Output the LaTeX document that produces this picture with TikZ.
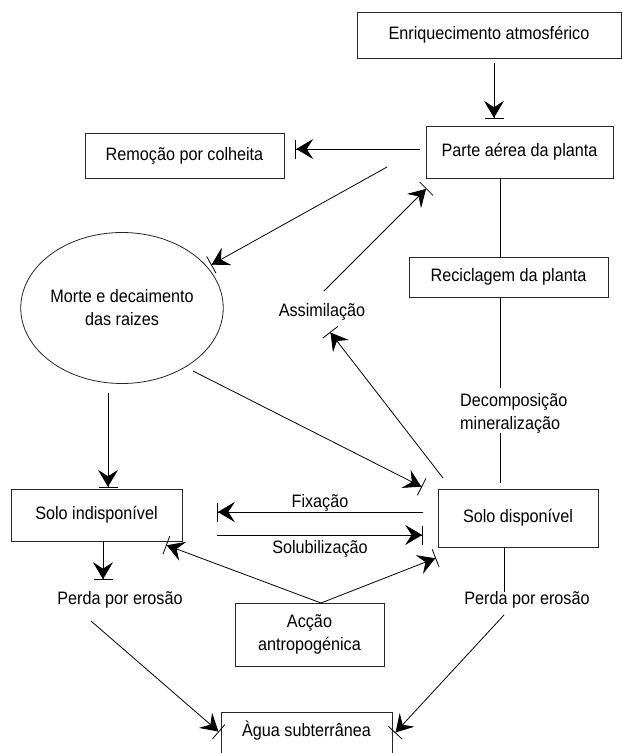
\documentclass[tikz,border=0pt]{standalone}
\usepackage{fontspec}
\setmainfont{Liberation Sans}[FakeStretch=0.9]
\usetikzlibrary{arrows.meta,shapes.geometric}
\begin{document}
\begin{tikzpicture}[x=1pt,y=-1pt,
  font=\fontsize{18}{23}\selectfont,
  box/.style={draw=black!85, line width=0.8pt, inner sep=0pt, align=center},
  lbl/.style={inner sep=0pt, align=center},
  conn/.style={line width=0.8pt, draw=black},
  arr/.style={conn, -{Stealth[length=17pt,width=20pt,inset=6.5pt]Bar[width=19pt]}}]
\fill[white] (0,0) rectangle (622,753);
\useasboundingbox (0,0) rectangle (622,753);

% nodes
\node[box, minimum width=264pt, minimum height=46pt] (enr) at (489,35) {Enriquecimento atmosférico};
\node[box, minimum width=187pt, minimum height=52pt] (parte) at (519.5,152) {Parte aérea da planta};
\node[box, minimum width=199pt, minimum height=45pt] (rem) at (184.5,155.5) {Remoção por colheita};
\node[box, minimum width=199pt, minimum height=40pt] (rec) at (508.5,277) {Reciclagem da planta};
\node[box, ellipse, minimum width=166pt, minimum height=151pt] (morte) at (122,308) {Morte e decaimento\\das raizes};
\node[box, minimum width=171pt, minimum height=52pt] (sind) at (96.5,515) {Solo indisponível};
\node[box, minimum width=160pt, minimum height=58pt] (sdisp) at (518,518) {Solo disponível};
\node[box, minimum width=149pt, minimum height=63pt] (accao) at (309.5,634.5) {Acção\\antropogénica};
\node[lbl] (agua) at (306.5,731) {Àgua subterrânea};
\draw[conn, draw=black!85] (221,753) -- (221,712) -- (392,712) -- (392,753);

% labels
\node[lbl] (assim) at (322,312) {Assimilação};
\node[lbl, align=left, anchor=west] (decomp) at (460,413) {Decomposição\\mineralização};
\node[lbl] (fix) at (320,503) {Fixação};
\node[lbl] (solub) at (320,549) {Solubilização};
\node[lbl] (perda1) at (120,600) {Perda por erosão};
\node[lbl] (perda2) at (527,600) {Perda por erosão};

% free ends
\coordinate (e1) at (494,63);
\coordinate (r1) at (420,149);
\coordinate (m1) at (387,167);
\coordinate (m2) at (211,265);
\coordinate (as1) at (324,291);
\coordinate (as2) at (443,478);
\coordinate (as3) at (330,332);
\coordinate (c1) at (108,393);
\coordinate (c2) at (193,371);
\coordinate (c3) at (422,487);
\coordinate (f1) at (423,512);
\coordinate (f2) at (217,512);
\coordinate (s1) at (217,535);
\coordinate (s2) at (423,535);
\coordinate (ac0) at (321,603);
\coordinate (ac1) at (166,545);
\coordinate (ac2) at (436,558);
\coordinate (pl1) at (103,541);
\coordinate (pl2) at (91,621);
\coordinate (aw) at (219,732);
\coordinate (ae) at (395,733);
\coordinate (pr0) at (504,592);
\coordinate (pr1) at (504,615);
\coordinate (v1) at (500,178);
\coordinate (v2) at (500,388);
\coordinate (v3) at (500,433);
\coordinate (v4) at (500,483);

% connectors
\draw[arr, shorten >=7pt] (e1) -- (e1 |- parte.north);
\draw[arr, shorten >=11pt] (r1) -- (r1 -| rem.east);
\draw[arr] (m1) -- (m2);
\draw[arr] (as1) -- ([shift={(1,10)}]parte.south west);
\draw[arr] (as2) -- (as3);
\draw[arr, shorten >=1pt] (c1) -- (c1 |- sind.north);
\draw[arr] (c2) -- (c3);
\draw[arr] (f1) -- (f2);
\draw[arr] (s1) -- (s2);
\draw[arr] (ac0) -- (ac1);
\draw[arr] (ac0) -- (ac2);
\draw[arr] (pl1) -- ++(0,39);
\draw[arr] (pl2) -- (aw);
\draw[conn] (sdisp.south -| pr0) -- (pr0);
\draw[arr] (pr1) -- (ae);
\draw[conn] (v1) -- (v1 |- rec.north);
\draw[conn] (v1 |- rec.south) -- (v2);
\draw[conn] (v3) -- (v4);
\end{tikzpicture}
\end{document}
